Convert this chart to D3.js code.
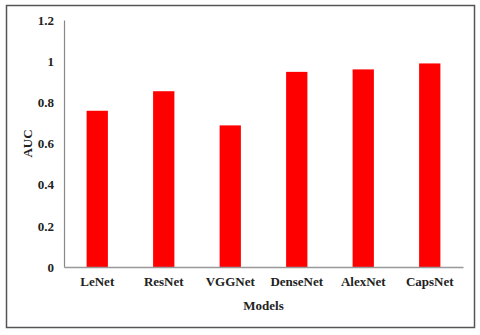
<!DOCTYPE html>
<html><head><meta charset="utf-8">
<script src="https://cdn.jsdelivr.net/npm/d3@7"></script>
<style>body{margin:0;background:#fff}svg{display:block}text{font-family:"Liberation Serif","Times New Roman",serif;font-weight:bold;fill:#222}</style>
</head><body><svg id="c" width="480" height="335"></svg>
<script>
const categories = ["LeNet","ResNet","VGGNet","DenseNet","AlexNet","CapsNet"];
const values = [0.759, 0.854, 0.688, 0.948, 0.960, 0.989];
const yTicks = [0, 0.2, 0.4, 0.6, 0.8, 1, 1.2];

(function(){
const svg = d3.select("#c");
svg.append("rect").attr("x",6.5).attr("y",5.5).attr("width",468).attr("height",322)
  .attr("fill","#fff").attr("stroke","#555").attr("stroke-width",1.5);

const mL = 64, mR = 463, mT = 20, mB = 267;
const x = d3.scaleBand().domain(categories).range([mL, mR]).padding(0);
const y = d3.scaleLinear().domain([0, 1.2]).range([mB, mT]);
const barW = x.bandwidth() * 0.32;

svg.append("g").selectAll("rect").data(values).join("rect")
  .attr("x", (d,i) => x(categories[i]) + x.bandwidth()/2 - barW/2)
  .attr("y", d => y(d))
  .attr("width", barW)
  .attr("height", d => y(0) - y(d))
  .attr("fill", "#ff0000");

const yAxis = svg.append("g").attr("transform",`translate(${mL},0)`)
  .call(d3.axisLeft(y).tickValues(yTicks).tickFormat(d3.format("~g")).tickSize(0).tickPadding(10));
yAxis.select(".domain").attr("stroke","#888").attr("stroke-width",1.2);
yAxis.selectAll("text").attr("font-size",13).attr("font-family",null).attr("fill","#222");

const xAxis = svg.append("g").attr("transform",`translate(0,${mB})`)
  .call(d3.axisBottom(x).tickSize(0).tickPadding(10));
xAxis.select(".domain").attr("stroke","#999").attr("stroke-width",1.5);
xAxis.selectAll("text").attr("font-size",13).attr("font-family",null).attr("fill","#222");

svg.append("text").attr("x",(mL+mR)/2).attr("y",310).attr("text-anchor","middle")
  .attr("font-size",13).text("Models");
svg.append("text").attr("transform",`translate(32,${(mT+mB)/2}) rotate(-90)`)
  .attr("text-anchor","middle").attr("font-size",13).text("AUC");
})();
</script></body></html>
